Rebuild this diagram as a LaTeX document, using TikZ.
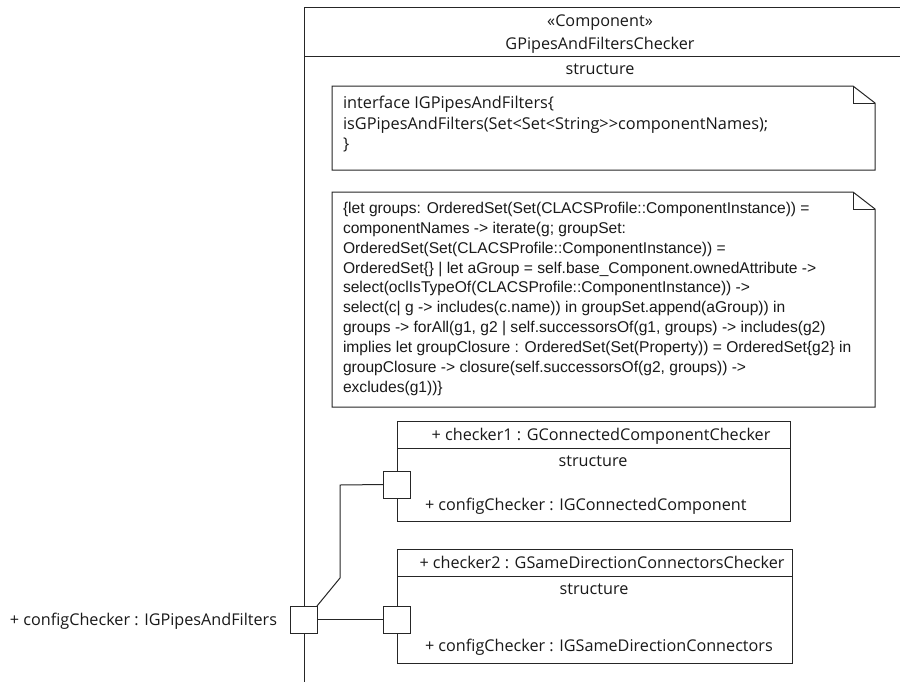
\documentclass[tikz,border=0pt]{standalone}
\usepackage{fontspec}
\setmainfont{Open Sans}
\newfontfamily\oclfont{Liberation Sans}
\begin{document}
\begin{tikzpicture}[x=1pt,y=-1pt,
  every node/.style={inner sep=0pt, outer sep=0pt},
  ln/.style={draw=black!85, line width=1pt},
  box/.style={ln, anchor=north west, fill=white},
  port/.style={ln, fill=white, minimum width=27pt, minimum height=27pt, anchor=north west},
  lbl/.style={font=\fontsize{16.2}{19}\selectfont, text=black!90},
  ocl/.style={font=\oclfont\fontsize{15.6}{19.9}\selectfont, text=black!90, align=left, anchor=north west},
  note/.style={font=\fontsize{16.3}{20.6}\selectfont, text=black!90, align=left, anchor=north west},
  area/.style={anchor=north west, minimum width=543pt}
]
\useasboundingbox (0,0) rectangle (900,681);
\clip (0,0) rectangle (900,681);
\fill[white] (0,0) rectangle (900,681);

% main component
\node[box, minimum width=620pt, minimum height=700pt] (main) at (304,7) {};
\draw[ln] (304,56) -- (920,56);
\node[lbl, anchor=base] (st) at (600,26) {«Component»};
\node[lbl, anchor=base] (nm) at (600,49) {GPipesAndFiltersChecker};
\node[lbl, anchor=base] (ms) at (600,74) {structure};

% note 1
\node[area, minimum height=84pt] (n1) at (332,86) {};
\draw[ln] (n1.north west) -- ([xshift=-22pt]n1.north east) -- ([yshift=-17pt]n1.north east) -- (n1.south east) -- (n1.south west) -- cycle;
\draw[ln] ([xshift=-22pt]n1.north east) -- ([xshift=-22pt,yshift=-17pt]n1.north east) -- ([yshift=-17pt]n1.north east);
\node[note] (n1t) at (343,96) {interface IGPipesAndFilters\{\\isGPipesAndFilters(Set<Set<String>{}>componentNames);\\\}};

% note 2
\node[area, minimum height=215pt] (n2) at (332,192) {};
\draw[ln] (n2.north west) -- ([xshift=-22pt]n2.north east) -- ([yshift=-17pt]n2.north east) -- (n2.south east) -- (n2.south west) -- cycle;
\draw[ln] ([xshift=-22pt]n2.north east) -- ([xshift=-22pt,yshift=-17pt]n2.north east) -- ([yshift=-17pt]n2.north east);
\node[ocl] (n2t) at (343,202) {\{let groups: OrderedSet(Set(CLACSProfile::ComponentInstance)) =\\
componentNames -> iterate(g; groupSet:\\
OrderedSet(Set(CLACSProfile::ComponentInstance)) =\\
OrderedSet\{\} | let aGroup = self.base\_Component.ownedAttribute ->\\
select(oclIsTypeOf(CLACSProfile::ComponentInstance)) ->\\
select(c| g -> includes(c.name)) in groupSet.append(aGroup)) in\\
groups -> forAll(g1, g2 | self.successorsOf(g1, groups) -> includes(g2)\\
implies let groupClosure : OrderedSet(Set(Property)) = OrderedSet\{g2\} in\\
groupClosure -> closure(self.successorsOf(g2, groups)) ->\\
excludes(g1))\}};

% checker1
\node[box, minimum width=393pt, minimum height=100pt] (c1) at (397,421) {};
\draw[ln] (397,448) -- (790,448);
\node[lbl, anchor=base] (c1t) at (601,440) {+ checker1 : GConnectedComponentChecker};
\node[lbl, anchor=base] (c1s) at (593,466) {structure};
\node[lbl, anchor=base west] (c1p) at (425,510) {+ configChecker : IGConnectedComponent};
\node[port] (p1) at (383,471) {};

% checker2
\node[box, minimum width=395pt, minimum height=114pt] (c2) at (397,549) {};
\draw[ln] (397,576) -- (792,576);
\node[lbl, anchor=base] (c2t) at (602,568) {+ checker2 : GSameDirectionConnectorsChecker};
\node[lbl, anchor=base] (c2s) at (594,594) {structure};
\node[lbl, anchor=base west] (c2p) at (425,651) {+ configChecker : IGSameDirectionConnectors};
\node[port] (p2) at (383,606) {};

% main port
\node[port] (mp) at (290,606) {};
\node[lbl, anchor=base east] (mpl) at (277,625) {+ configChecker : IGPipesAndFilters};

% connectors
\coordinate (b1) at (340,578);
\coordinate (b2) at (340,485);
\draw[ln] (mp.north east) -- (b1) -- (b2) -- (p1.west);
\draw[ln] ([yshift=-13pt]mp.north east) -- ([yshift=-13pt]p2.north west);
\end{tikzpicture}
\end{document}
